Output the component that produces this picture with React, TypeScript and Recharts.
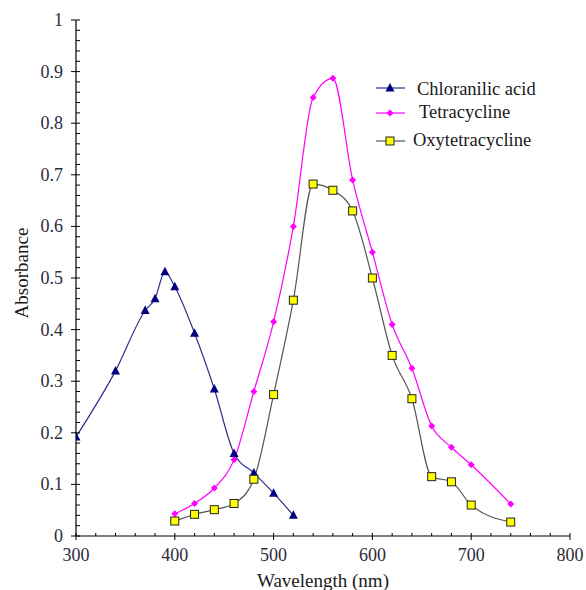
import { LineChart, Line, XAxis, YAxis } from "recharts";

const chloroWavelengths = [300, 340, 370, 380, 390, 400, 420, 440, 460, 480, 500, 520];
const chloroAbsorbance = [0.192, 0.32, 0.437, 0.46, 0.512, 0.483, 0.393, 0.285, 0.16, 0.122, 0.083, 0.04];

const drugWavelengths = [400, 420, 440, 460, 480, 500, 520, 540, 560, 580, 600, 620, 640, 660, 680, 700, 740];
const tetraAbsorbance = [0.043, 0.063, 0.093, 0.148, 0.28, 0.415, 0.6, 0.85, 0.887, 0.69, 0.55, 0.41, 0.325, 0.213, 0.172, 0.138, 0.062];
const oxyAbsorbance = [0.029, 0.042, 0.051, 0.063, 0.11, 0.274, 0.457, 0.682, 0.67, 0.63, 0.5, 0.35, 0.266, 0.115, 0.105, 0.06, 0.027];

const xMajorTicks = [300, 400, 500, 600, 700, 800];
const yMajorTicks = [0, 0.1, 0.2, 0.3, 0.4, 0.5, 0.6, 0.7, 0.8, 0.9, 1];

// minor ticks: 5 per major interval
const xTicks = Array.from({ length: 26 }, (_, i) => 300 + i * 20);
const yTicks = Array.from({ length: 51 }, (_, i) => Number((i * 0.02).toFixed(2)));

const chloroData = chloroWavelengths.map((w, i) => ({ w, v: chloroAbsorbance[i] }));
const tetraData = drugWavelengths.map((w, i) => ({ w, v: tetraAbsorbance[i] }));
const oxyData = drugWavelengths.map((w, i) => ({ w, v: oxyAbsorbance[i] }));

const FONT = "'Liberation Serif', 'Times New Roman', serif";
const NAVY = "#000080";
const NAVY_LINE = "#2e2e8c";
const MAGENTA = "#ff00ff";
const GRAY = "#555555";
const YELLOW = "#ffff00";
const TEXT = "#2b2b3a";

function isMajor(v: number, majors: number[]) {
  return majors.some((m) => Math.abs(m - v) < 1e-6);
}

function XTick(props: any) {
  const { x, y, payload } = props;
  const major = isMajor(payload.value, xMajorTicks);
  return (
    <g>
      {major ? (
        <>
          <line x1={x} x2={x} y1={y - 3} y2={y + 4} stroke="#000" strokeWidth={1} />
          <text x={x} y={y + 25} textAnchor="middle" fontSize={18} style={{ fontFamily: FONT }} fill={TEXT}>
            {payload.value}
          </text>
        </>
      ) : (
        <line x1={x} x2={x} y1={y - 3} y2={y} stroke="#000" strokeWidth={1} />
      )}
    </g>
  );
}

function YTick(props: any) {
  const { x, y, payload } = props;
  const major = isMajor(payload.value, yMajorTicks);
  return (
    <g>
      {major ? (
        <>
          <line x1={x - 5} x2={x + 4} y1={y} y2={y} stroke="#000" strokeWidth={1} />
          <text x={x - 13} y={y + 6} textAnchor="end" fontSize={18} style={{ fontFamily: FONT }} fill={TEXT}>
            {String(Number(payload.value.toFixed(1)))}
          </text>
        </>
      ) : (
        <line x1={x} x2={x + 4} y1={y} y2={y} stroke="#000" strokeWidth={1} />
      )}
    </g>
  );
}

function Triangle({ cx, cy }: { cx: number; cy: number }) {
  return <polygon points={`${cx},${cy - 5} ${cx - 4.5},${cy + 3.5} ${cx + 4.5},${cy + 3.5}`} fill={NAVY} />;
}

function Diamond({ cx, cy }: { cx: number; cy: number }) {
  return <polygon points={`${cx},${cy - 3.5} ${cx + 3.5},${cy} ${cx},${cy + 3.5} ${cx - 3.5},${cy}`} fill={MAGENTA} />;
}

function Square({ cx, cy }: { cx: number; cy: number }) {
  return <rect x={cx - 4} y={cy - 4} width={8} height={8} fill={YELLOW} stroke="#222" strokeWidth={1} />;
}

const legendItems = [
  { name: "Chloranilic acid", color: NAVY_LINE, marker: "tri", textX: 417, lineY: 88, baseY: 95 },
  { name: "Tetracycline", color: MAGENTA, marker: "dia", textX: 419, lineY: 113, baseY: 118 },
  { name: "Oxytetracycline", color: GRAY, marker: "sq", textX: 413, lineY: 141, baseY: 146 },
];

function LegendOverlay() {
  return (
    <svg width={586} height={590} style={{ position: "absolute", left: 0, top: 0, pointerEvents: "none" }}>
      {legendItems.map((item) => (
        <g key={item.name}>
          <line x1={376} x2={405} y1={item.lineY} y2={item.lineY} stroke={item.color} strokeWidth={1.2} />
          {item.marker === "tri" && <Triangle cx={390} cy={item.lineY} />}
          {item.marker === "dia" && <Diamond cx={390} cy={item.lineY} />}
          {item.marker === "sq" && <Square cx={390} cy={item.lineY} />}
          <text x={item.textX} y={item.baseY} fontSize={18.5} style={{ fontFamily: FONT }} fill="#1a1a1a">
            {item.name}
          </text>
        </g>
      ))}
    </svg>
  );
}

export default function App() {
  return (
    <div style={{ position: "absolute", left: 0, top: 0, width: 586, height: 590, background: "#fff" }}>
      <LineChart width={586} height={590} margin={{ top: 20, right: 16, bottom: 0, left: 0 }}>
        <XAxis
          dataKey="w"
          type="number"
          domain={[300, 800]}
          ticks={xTicks}
          interval={0}
          tick={<XTick />}
          tickLine={false}
          tickSize={0}
          tickMargin={0}
          axisLine={{ stroke: "#000", strokeWidth: 1.2 }}
          height={54}
          allowDataOverflow
          label={{
            content: () => (
              <text x={323} y={587} textAnchor="middle" fontSize={19} style={{ fontFamily: FONT }} fill="#1a1a1a">
                Wavelength (nm)
              </text>
            ),
          }}
        />
        <YAxis
          type="number"
          domain={[0, 1]}
          ticks={yTicks}
          interval={0}
          tick={<YTick />}
          tickLine={false}
          tickSize={0}
          tickMargin={0}
          axisLine={{ stroke: "#000", strokeWidth: 1.2 }}
          width={76}
          allowDataOverflow
          label={{
            content: () => (
              <text
                x={21}
                y={273}
                transform="rotate(-90 21 273)"
                textAnchor="middle"
                dominantBaseline="central"
                fontSize={19}
                style={{ fontFamily: FONT }}
                fill="#1a1a1a"
              >
                Absorbance
              </text>
            ),
          }}
        />
        <Line
          data={chloroData}
          dataKey="v"
          name="Chloranilic acid"
          type="monotone"
          stroke={NAVY_LINE}
          strokeWidth={1.2}
          dot={(p: any) => <Triangle key={`c${p.index}`} cx={p.cx} cy={p.cy} />}
          activeDot={false}
          isAnimationActive={false}
        />
        <Line
          data={tetraData}
          dataKey="v"
          name="Tetracycline"
          type="monotone"
          stroke={MAGENTA}
          strokeWidth={1.2}
          dot={(p: any) => <Diamond key={`t${p.index}`} cx={p.cx} cy={p.cy} />}
          activeDot={false}
          isAnimationActive={false}
        />
        <Line
          data={oxyData}
          dataKey="v"
          name="Oxytetracycline"
          type="monotone"
          stroke={GRAY}
          strokeWidth={1.2}
          dot={(p: any) => <Square key={`o${p.index}`} cx={p.cx} cy={p.cy} />}
          activeDot={false}
          isAnimationActive={false}
        />
      </LineChart>
      <LegendOverlay />
    </div>
  );
}
